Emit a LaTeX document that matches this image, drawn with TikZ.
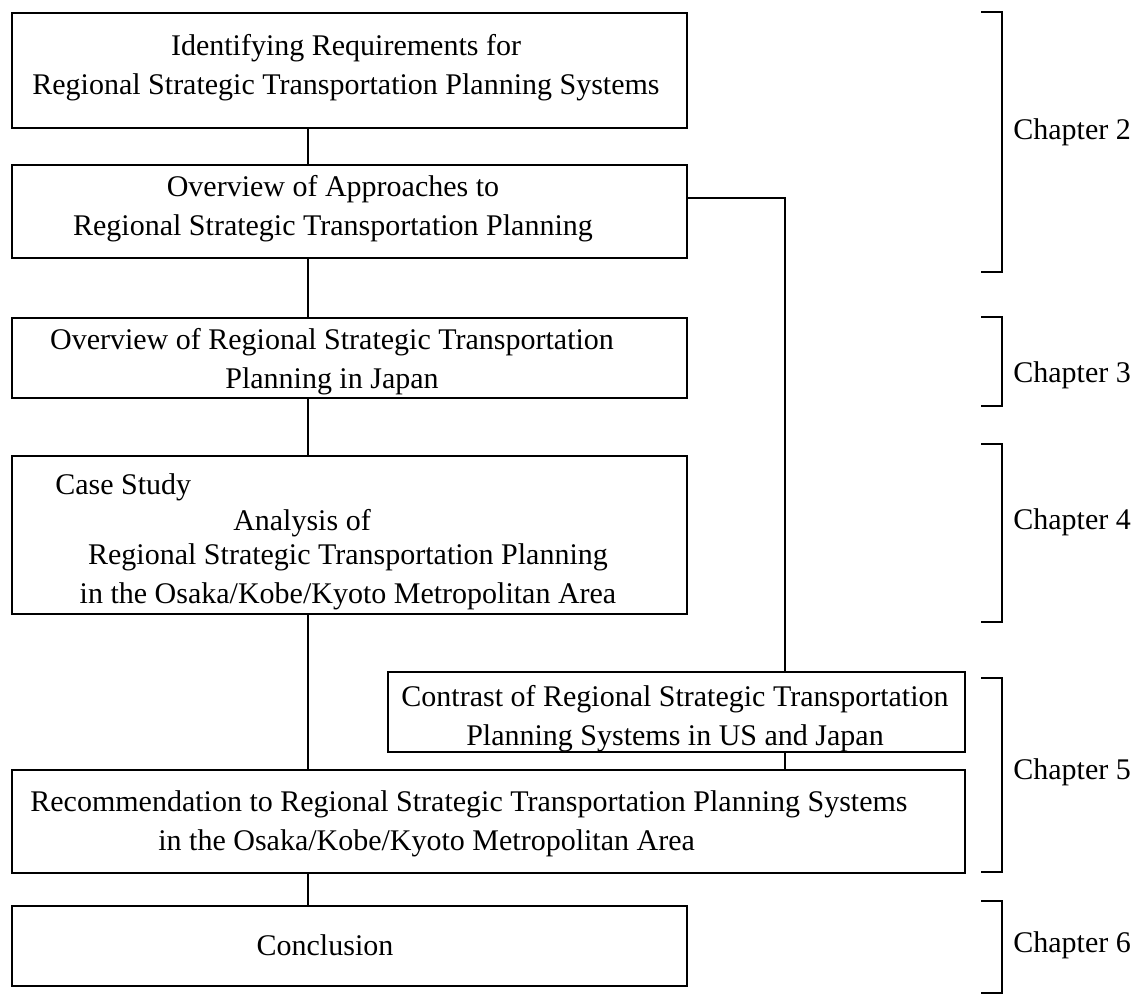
\documentclass[tikz,border=0pt]{standalone}
\usepackage{fontspec}
\setmainfont{Liberation Serif}
\usetikzlibrary{positioning,calc}
\tikzset{
    stagebox/.style={
        rectangle,
        draw=black,
        line width=1.3pt,
        inner sep=0pt
    },
    stagetext/.style={
        align=center,
        inner sep=0pt,
        font=\fontsize{15}{19.5}\selectfont
    },
    link/.style={
        draw=black,
        line width=0.9pt
    },
    chapbrace/.style={
        draw=black,
        line width=1.1pt
    },
    chaplabel/.style={
        anchor=west,
        inner sep=0pt,
        font=\fontsize{15}{19.5}\selectfont
    }
}

\begin{document}
\begin{tikzpicture}[x=0.5pt, y=-0.5pt]
\useasboundingbox (0,0) rectangle (1147,997);

% Stage boxes
\node[stagebox, minimum width=337.5pt, minimum height=57.5pt] (req) at (349.5,70.5) {};
\node[stagebox, minimum width=337.5pt, minimum height=46.5pt] (approach) at (349.5,211.5) {};
\node[stagebox, minimum width=337.5pt, minimum height=40pt] (japan) at (349.5,358) {};
\node[stagebox, minimum width=337.5pt, minimum height=79pt] (case) at (349.5,535) {};
\node[stagebox, minimum width=288.5pt, minimum height=40pt] (contrast) at (676.5,712) {};
\node[stagebox, minimum width=476.5pt, minimum height=51.5pt] (recommend) at (488.5,821.5) {};
\node[stagebox, minimum width=337.5pt, minimum height=40pt] (concl) at (349.5,946) {};

% Stage texts
\node[stagetext] (req-text) at (346,68) {Identifying Requirements for\\Regional Strategic Transportation Planning Systems};
\node[stagetext] (approach-text) at (333,209) {Overview of Approaches to\\Regional Strategic Transportation Planning};
\node[stagetext] (japan-text) at (332,362) {Overview of Regional Strategic Transportation\\Planning in Japan};
\node[stagetext, anchor=west] (case-head) at (55,487) {Case Study};
\node[stagetext] (case-sub) at (302,523) {Analysis of};
\node[stagetext] (case-main) at (348,577) {Regional Strategic Transportation Planning\\in the Osaka/Kobe/Kyoto Metropolitan Area};
\node[stagetext] (contrast-text) at (675,719) {Contrast of Regional Strategic Transportation\\Planning Systems in US and Japan};
\node[stagetext, align=left, anchor=west] (recommend-text) at (30,824) {Recommendation to Regional Strategic Transportation Planning Systems\\\hspace*{64pt}in the Osaka/Kobe/Kyoto Metropolitan Area};
\node[stagetext] (concl-text) at (325,945) {Conclusion};

% Connectors
\coordinate (spine) at (308,0);
\coordinate (tap) at (785,198);
\draw[link] (req.south -| spine) -- (approach.north -| spine);
\draw[link] (approach.south -| spine) -- (japan.north -| spine);
\draw[link] (japan.south -| spine) -- (case.north -| spine);
\draw[link] (case.south -| spine) -- (recommend.north -| spine);
\draw[link] (recommend.south -| spine) -- (concl.north -| spine);
\draw[link] (tap -| approach.east) -- (tap) -- (contrast.north -| tap);
\draw[link] (contrast.south -| tap) -- (recommend.north -| tap);

% Chapter brackets
\foreach \n/\ya/\yb/\ly in {2/12/272/132, 3/317/406/375, 4/444/622/522, 5/678/872/772, 6/901/993/945}{
    \draw[chapbrace] (981,\ya) -- (1002,\ya) -- (1002,\yb) -- (981,\yb);
    \node[chaplabel] (ch\n) at (1013,\ly) {Chapter \n};
}
\end{tikzpicture}
\end{document}
